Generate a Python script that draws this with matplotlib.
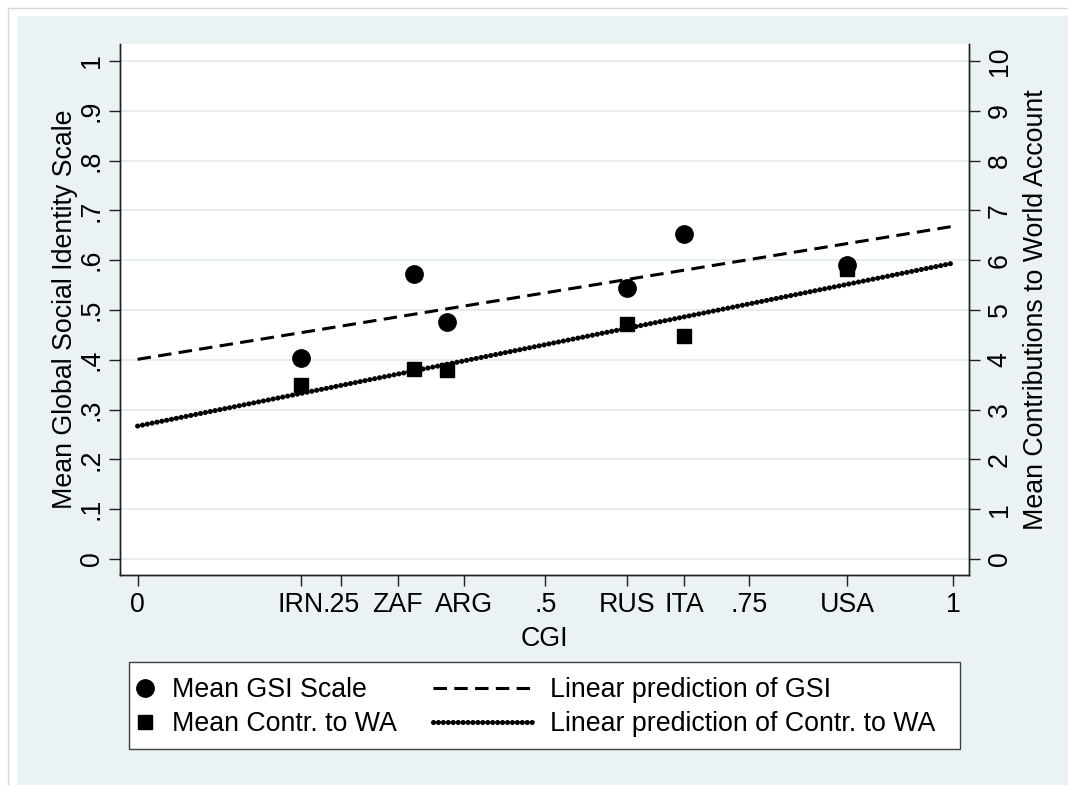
import matplotlib
matplotlib.use("Agg")
import matplotlib.pyplot as plt
from matplotlib.lines import Line2D
from matplotlib.patches import Rectangle

plt.rcParams["font.family"] = ["Liberation Sans", "DejaVu Sans"]

# data
countries = ["IRN", "ZAF", "ARG", "RUS", "ITA", "USA"]
cgi = [0.20, 0.339, 0.38, 0.60, 0.67, 0.87]
gsi_mean = [0.404, 0.572, 0.476, 0.544, 0.653, 0.590]
contr_mean = [3.49, 3.81, 3.79, 4.72, 4.48, 5.82]
country_tick_pos = [0.20, 0.319, 0.40, 0.60, 0.67, 0.87]

fit_x = [0.0, 1.0]
gsi_fit = [0.401, 0.668]
contr_fit = [2.67, 5.94]

num_ticks = [0, 0.25, 0.5, 0.75, 1]
num_labels = ["0", ".25", ".5", ".75", "1"]
left_ticks = [i / 10 for i in range(11)]
left_labels = ["0", ".1", ".2", ".3", ".4", ".5", ".6", ".7", ".8", ".9", "1"]
right_ticks = list(range(11))

FS = 19.3
BG = "#EAF2F3"
GRID = "#E3ECEE"
TL = 7.8  # tick length (pt)
DOTS = (0, (0.01, 0.95))
DOT_LW = 3.7

fig = plt.figure(figsize=(10.68, 7.85), dpi=100)
fig.patch.set_facecolor("white")
W, H = 1068, 785

# outer frame + region background (stata style)
fig.add_artist(Rectangle((17 / W, 0), 1, (H - 16) / H, transform=fig.transFigure,
                         facecolor=BG, edgecolor="none", zorder=-10))
fig.add_artist(Line2D([7.5 / W, 7.5 / W, 1], [0, (H - 7.5) / H, (H - 7.5) / H],
                      transform=fig.transFigure, color="#D8D8D8", lw=1, zorder=-10))

ax = fig.add_axes([120 / W, (H - 575) / H, 849 / W, 531 / H])
ax.set_facecolor("white")
ax2 = ax.twinx()

ax.set_xlim(-0.0216, 1.0196)
ax.set_ylim(-0.032, 1.034)
ax2.set_ylim(-0.32, 10.34)

for a in (ax, ax2):
    a.spines["top"].set_visible(False)
    for s in ("left", "right", "bottom"):
        a.spines[s].set_linewidth(1.0)
        a.spines[s].set_color("#202020")

# grid
for yv in left_ticks:
    ax.axhline(yv, color=GRID, lw=1.3, zorder=0)

# fitted lines
ax.plot(fit_x, gsi_fit, color="black", lw=2.2, dashes=(4.4, 2.4),
        dash_capstyle="butt", zorder=3)
ax2.plot(fit_x, contr_fit, color="black", lw=DOT_LW, linestyle=DOTS,
         dash_capstyle="round", zorder=3)

# markers
ax.plot(cgi, gsi_mean, "o", color="black", ms=12.5, zorder=4)
ax2.plot(cgi, contr_mean, "s", color="black", ms=10, zorder=4)

# x ticks
xt = num_ticks + country_tick_pos
xl = num_labels + countries
order = sorted(range(len(xt)), key=lambda i: xt[i])
ax.set_xticks([xt[i] for i in order])
ax.set_xticklabels([xl[i] for i in order], fontsize=FS)
ax.tick_params(axis="x", length=TL, width=1, pad=4.3, color="#202020")
ax.set_xlabel("CGI", fontsize=FS)
ax.xaxis.set_label_coords(0.5, -0.096)

ax.set_yticks(left_ticks)
ax.set_yticklabels(left_labels, fontsize=FS, rotation=90, va="center")
ax.tick_params(axis="y", length=TL, width=1, pad=3.2, color="#202020")
ax.set_ylabel("Mean Global Social Identity Scale", fontsize=FS)
ax.yaxis.set_label_coords(-0.0498, 0.5)

ax2.set_yticks(right_ticks)
ax2.set_yticklabels([str(v) for v in right_ticks], fontsize=FS, rotation=90, va="center")
ax2.tick_params(axis="y", length=TL, width=1, pad=5, color="#202020")
ax2.set_ylabel("Mean Contributions to World Account", fontsize=FS, rotation=90)
ax2.yaxis.set_label_coords(1.0636, 0.5)

# legend: frame plus two borderless legends
fig.add_artist(Rectangle((129 / W, (H - 749) / H), 831 / W, 87 / H,
                         transform=fig.transFigure, facecolor="white",
                         edgecolor="#404040", lw=1, zorder=5))
h_pts = [Line2D([], [], marker="o", ls="none", color="black", ms=12.5),
         Line2D([], [], marker="s", ls="none", color="black", ms=10)]
h_lines = [Line2D([], [], color="black", lw=2.2, dashes=(4.4, 2.4)),
           Line2D([], [], color="black", lw=DOT_LW, linestyle=DOTS,
                  dash_capstyle="round")]
leg1 = fig.legend(h_pts, ["Mean GSI Scale", "Mean Contr. to WA"], loc="center left",
                  bbox_to_anchor=(131.5 / W, (H - 707) / H), frameon=False,
                  fontsize=FS, handlelength=1.0, handletextpad=0.5,
                  labelspacing=0.3, borderpad=0, borderaxespad=0)
leg2 = fig.legend(h_lines, ["Linear prediction of GSI", "Linear prediction of Contr. to WA"],
                  loc="center left", bbox_to_anchor=(433 / W, (H - 707) / H),
                  frameon=False, fontsize=FS, handlelength=3.78, handletextpad=0.6,
                  labelspacing=0.3, borderpad=0, borderaxespad=0)
leg1.set_zorder(6)
leg2.set_zorder(6)

fig.savefig("out.png", dpi=100)
plt.close(fig)
